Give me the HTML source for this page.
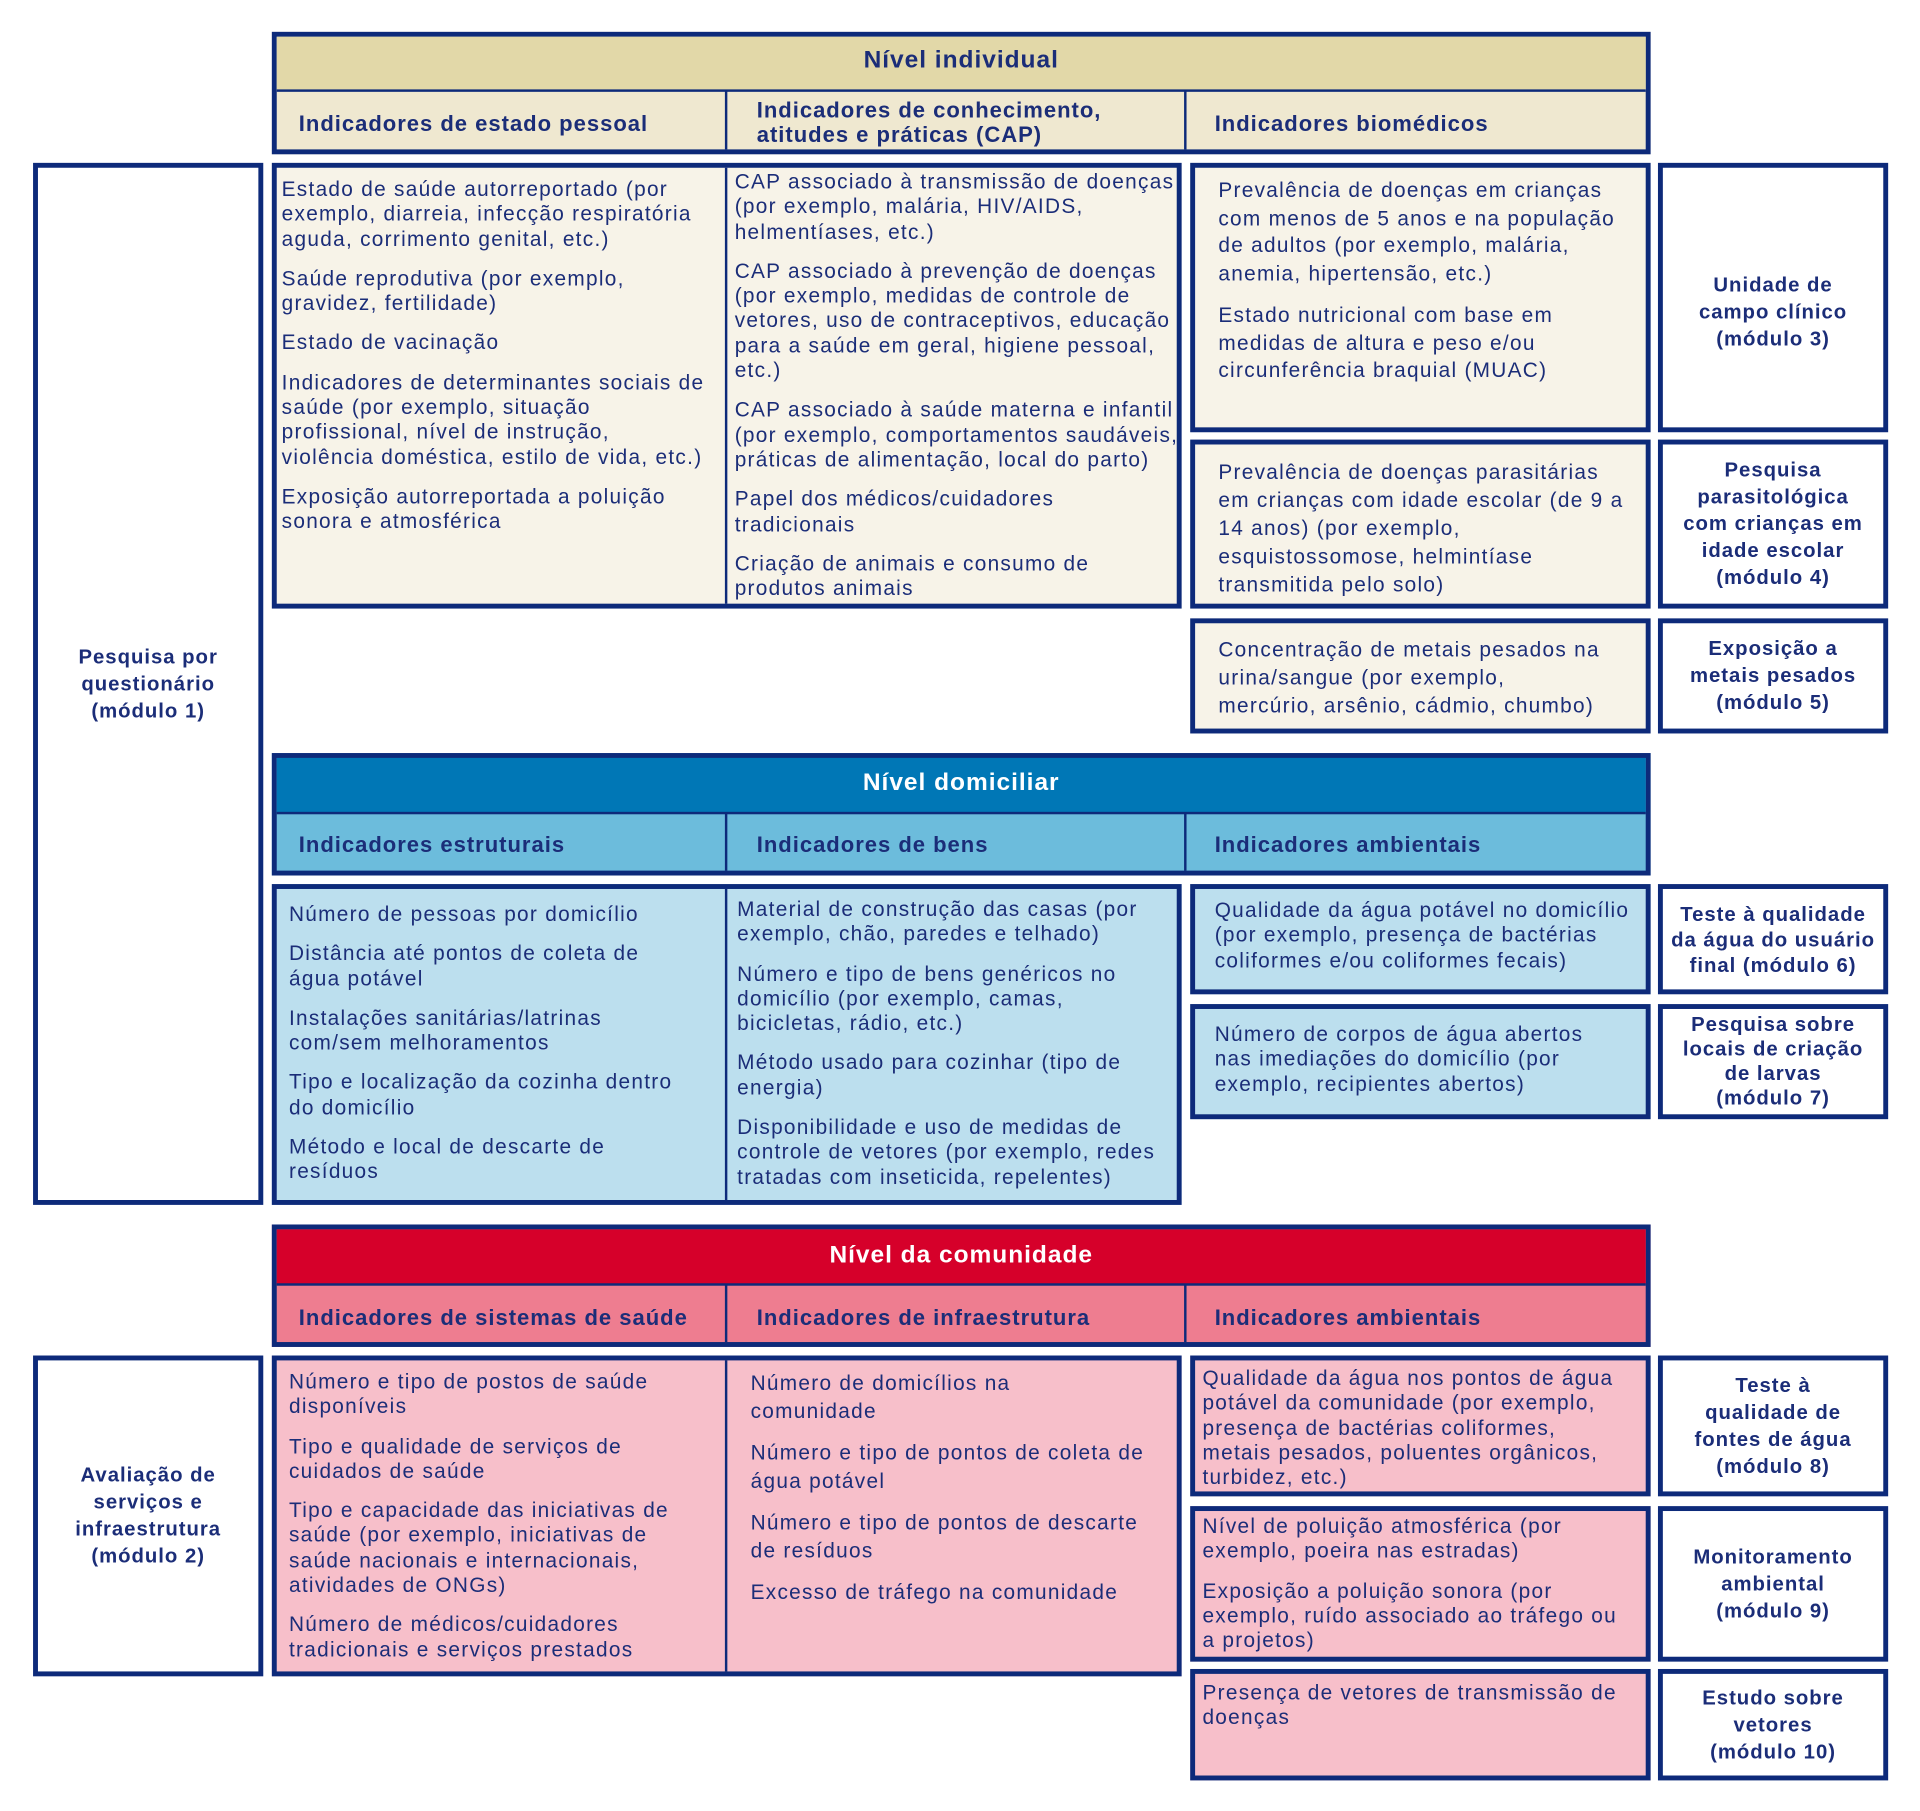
<!DOCTYPE html>
<html><head><meta charset="utf-8"><style>
html,body{margin:0;padding:0;background:#fff;}
body{width:1920px;height:1811px;overflow:hidden;}
#w{position:absolute;left:0;top:0;width:1568px;height:1479px;transform:scale(1.22449);transform-origin:0 0;font-family:"Liberation Sans",sans-serif;color:#1b2d78;}
.b{position:absolute;box-sizing:border-box;border:4px solid #0d2a7a;}
.a{position:absolute;box-sizing:border-box;}
.t{position:absolute;font-size:17px;letter-spacing:1.05px;line-height:20.3px;white-space:nowrap;}
.t p{margin:0 0 12px 0;}
.h{position:absolute;font-weight:bold;font-size:20px;letter-spacing:0.8px;text-align:center;}
.s{position:absolute;font-weight:bold;font-size:18px;letter-spacing:0.8px;line-height:20px;white-space:nowrap;}
.m{position:absolute;font-weight:bold;font-size:16.6px;letter-spacing:0.8px;line-height:22px;text-align:center;display:flex;align-items:center;justify-content:center;box-sizing:border-box;white-space:nowrap;}
.vl{position:absolute;width:2px;background:#0d2a7a;}
.hl{position:absolute;height:2px;background:#0d2a7a;}
</style></head><body><div id="w">

<!-- INDIVIDUAL -->
<div class="b" style="left:222px;top:26px;width:1126px;height:100px;background:#efe8d0;"></div>
<div class="a" style="left:226px;top:30px;width:1118px;height:44px;background:#e2d8a8;"></div>
<div class="hl" style="left:226px;top:73px;width:1118px;"></div>
<div class="vl" style="left:592px;top:74px;height:48px;"></div>
<div class="vl" style="left:967px;top:74px;height:48px;"></div>
<div class="h" style="left:222px;top:38px;width:1126px;">Nível individual</div>
<div class="s" style="left:244px;top:91px;">Indicadores de estado pessoal</div>
<div class="s" style="left:618px;top:80px;">Indicadores de conhecimento,<br>atitudes e práticas (CAP)</div>
<div class="s" style="left:992px;top:91px;">Indicadores biomédicos</div>

<div class="b" style="left:222px;top:133px;width:743px;height:364px;background:#f7f3e8;"></div>
<div class="vl" style="left:592px;top:137px;height:356px;"></div>
<div class="t" style="left:230px;top:145px;"><p>Estado de saúde autorreportado (por<br>exemplo, diarreia, infecção respiratória<br>aguda, corrimento genital, etc.)</p><p>Saúde reprodutiva (por exemplo,<br>gravidez, fertilidade)</p><p>Estado de vacinação</p><p>Indicadores de determinantes sociais de<br>saúde (por exemplo, situação<br>profissional, nível de instrução,<br>violência doméstica, estilo de vida, etc.)</p><p>Exposição autorreportada a poluição<br>sonora e atmosférica</p></div>
<div class="t" style="left:600px;top:139px;"><p>CAP associado à transmissão de doenças<br>(por exemplo, malária, HIV/AIDS,<br>helmentíases, etc.)</p><p>CAP associado à prevenção de doenças<br>(por exemplo, medidas de controle de<br>vetores, uso de contraceptivos, educação<br>para a saúde em geral, higiene pessoal,<br>etc.)</p><p>CAP associado à saúde materna e infantil<br>(por exemplo, comportamentos saudáveis,<br>práticas de alimentação, local do parto)</p><p>Papel dos médicos/cuidadores<br>tradicionais</p><p>Criação de animais e consumo de<br>produtos animais</p></div>

<div class="b" style="left:972px;top:133px;width:376px;height:220px;background:#f7f3e8;"></div>
<div class="t" style="left:995px;top:145px;line-height:22.5px;"><p>Prevalência de doenças em crianças<br>com menos de 5 anos e na população<br>de adultos (por exemplo, malária,<br>anemia, hipertensão, etc.)</p><p>Estado nutricional com base em<br>medidas de altura e peso e/ou<br>circunferência braquial (MUAC)</p></div>
<div class="b" style="left:972px;top:359px;width:376px;height:138px;background:#f7f3e8;"></div>
<div class="t" style="left:995px;top:374px;line-height:23px;">Prevalência de doenças parasitárias<br>em crianças com idade escolar (de 9 a<br>14 anos) (por exemplo,<br>esquistossomose, helmintíase<br>transmitida pelo solo)</div>
<div class="b" style="left:972px;top:505px;width:376px;height:94px;background:#f7f3e8;"></div>
<div class="t" style="left:995px;top:519px;line-height:23px;">Concentração de metais pesados na<br>urina/sangue (por exemplo,<br>mercúrio, arsênio, cádmio, chumbo)</div>

<div class="b m" style="left:1354px;top:133px;width:188px;height:220px;background:#fff;padding-top:24px;">Unidade de<br>campo clínico<br>(módulo 3)</div>
<div class="b m" style="left:1354px;top:359px;width:188px;height:138px;background:#fff;">Pesquisa<br>parasitológica<br>com crianças em<br>idade escolar<br>(módulo 4)</div>
<div class="b m" style="left:1354px;top:505px;width:188px;height:94px;background:#fff;">Exposição a<br>metais pesados<br>(módulo 5)</div>

<div class="b m" style="left:27px;top:133px;width:188px;height:851px;background:#fff;">Pesquisa por<br>questionário<br>(módulo 1)</div>

<!-- DOMICILIAR -->
<div class="b" style="left:222px;top:615px;width:1126px;height:100px;background:#6cbcdc;"></div>
<div class="a" style="left:226px;top:619px;width:1118px;height:45px;background:#0077b6;"></div>
<div class="hl" style="left:226px;top:663px;width:1118px;"></div>
<div class="vl" style="left:592px;top:664px;height:47px;"></div>
<div class="vl" style="left:967px;top:664px;height:47px;"></div>
<div class="h" style="left:222px;top:628px;width:1126px;color:#fff;">Nível domiciliar</div>
<div class="s" style="left:244px;top:680px;">Indicadores estruturais</div>
<div class="s" style="left:618px;top:680px;">Indicadores de bens</div>
<div class="s" style="left:992px;top:680px;">Indicadores ambientais</div>

<div class="b" style="left:222px;top:722px;width:743px;height:262px;background:#bcdfee;"></div>
<div class="vl" style="left:592px;top:726px;height:254px;"></div>
<div class="t" style="left:236px;top:737px;"><p>Número de pessoas por domicílio</p><p>Distância até pontos de coleta de<br>água potável</p><p>Instalações sanitárias/latrinas<br>com/sem melhoramentos</p><p>Tipo e localização da cozinha dentro<br>do domicílio</p><p>Método e local de descarte de<br>resíduos</p></div>
<div class="t" style="left:602px;top:733px;"><p>Material de construção das casas (por<br>exemplo, chão, paredes e telhado)</p><p>Número e tipo de bens genéricos no<br>domicílio (por exemplo, camas,<br>bicicletas, rádio, etc.)</p><p>Método usado para cozinhar (tipo de<br>energia)</p><p>Disponibilidade e uso de medidas de<br>controle de vetores (por exemplo, redes<br>tratadas com inseticida, repelentes)</p></div>

<div class="b" style="left:972px;top:722px;width:376px;height:90px;background:#bcdfee;"></div>
<div class="t" style="left:992px;top:734px;">Qualidade da água potável no domicílio<br>(por exemplo, presença de bactérias<br>coliformes e/ou coliformes fecais)</div>
<div class="b" style="left:972px;top:820px;width:376px;height:94px;background:#bcdfee;"></div>
<div class="t" style="left:992px;top:835px;">Número de corpos de água abertos<br>nas imediações do domicílio (por<br>exemplo, recipientes abertos)</div>

<div class="b m" style="left:1354px;top:722px;width:188px;height:90px;background:#fff;line-height:21px;">Teste à qualidade<br>da água do usuário<br>final (módulo 6)</div>
<div class="b m" style="left:1354px;top:820px;width:188px;height:94px;background:#fff;line-height:20px;">Pesquisa sobre<br>locais de criação<br>de larvas<br>(módulo 7)</div>

<!-- COMUNIDADE -->
<div class="b" style="left:222px;top:1000px;width:1126px;height:100px;background:#ee7d90;"></div>
<div class="a" style="left:226px;top:1004px;width:1118px;height:45px;background:#d6002a;"></div>
<div class="hl" style="left:226px;top:1048px;width:1118px;"></div>
<div class="vl" style="left:592px;top:1049px;height:47px;"></div>
<div class="vl" style="left:967px;top:1049px;height:47px;"></div>
<div class="h" style="left:222px;top:1014px;width:1126px;color:#fff;">Nível da comunidade</div>
<div class="s" style="left:244px;top:1066px;">Indicadores de sistemas de saúde</div>
<div class="s" style="left:618px;top:1066px;">Indicadores de infraestrutura</div>
<div class="s" style="left:992px;top:1066px;">Indicadores ambientais</div>

<div class="b" style="left:222px;top:1107px;width:743px;height:262px;background:#f7bfca;"></div>
<div class="vl" style="left:592px;top:1111px;height:254px;"></div>
<div class="t" style="left:236px;top:1119px;"><p>Número e tipo de postos de saúde<br>disponíveis</p><p>Tipo e qualidade de serviços de<br>cuidados de saúde</p><p>Tipo e capacidade das iniciativas de<br>saúde (por exemplo, iniciativas de<br>saúde nacionais e internacionais,<br>atividades de ONGs)</p><p>Número de médicos/cuidadores<br>tradicionais e serviços prestados</p></div>
<div class="t" style="left:613px;top:1119px;line-height:22.5px;"><p>Número de domicílios na<br>comunidade</p><p>Número e tipo de pontos de coleta de<br>água potável</p><p>Número e tipo de pontos de descarte<br>de resíduos</p><p>Excesso de tráfego na comunidade</p></div>

<div class="b" style="left:972px;top:1107px;width:376px;height:115px;background:#f7bfca;"></div>
<div class="t" style="left:982px;top:1116px;">Qualidade da água nos pontos de água<br>potável da comunidade (por exemplo,<br>presença de bactérias coliformes,<br>metais pesados, poluentes orgânicos,<br>turbidez, etc.)</div>
<div class="b" style="left:972px;top:1230px;width:376px;height:127px;background:#f7bfca;"></div>
<div class="t" style="left:982px;top:1237px;"><p>Nível de poluição atmosférica (por<br>exemplo, poeira nas estradas)</p><p>Exposição a poluição sonora (por<br>exemplo, ruído associado ao tráfego ou<br>a projetos)</p></div>
<div class="b" style="left:972px;top:1363px;width:376px;height:91px;background:#f7bfca;"></div>
<div class="t" style="left:982px;top:1373px;">Presença de vetores de transmissão de<br>doenças</div>

<div class="b m" style="left:1354px;top:1107px;width:188px;height:115px;background:#fff;">Teste à<br>qualidade de<br>fontes de água<br>(módulo 8)</div>
<div class="b m" style="left:1354px;top:1230px;width:188px;height:127px;background:#fff;">Monitoramento<br>ambiental<br>(módulo 9)</div>
<div class="b m" style="left:1354px;top:1363px;width:188px;height:91px;background:#fff;">Estudo sobre<br>vetores<br>(módulo 10)</div>

<div class="b m" style="left:27px;top:1107px;width:188px;height:262px;background:#fff;">Avaliação de<br>serviços e<br>infraestrutura<br>(módulo 2)</div>

</div></body></html>
